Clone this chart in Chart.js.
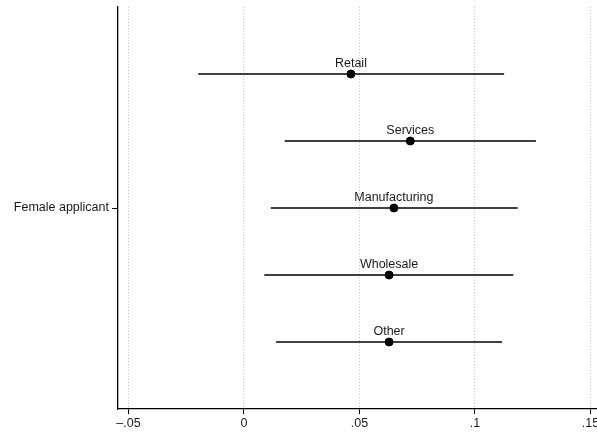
<!DOCTYPE html>
<html>
<head>
<meta charset="utf-8">
<script src="https://cdn.jsdelivr.net/npm/chart.js@4/dist/chart.umd.min.js"></script>
<style>
  html, body { margin: 0; padding: 0; background: #fff; overflow: hidden; }
  #wrap { width: 597px; height: 434px; overflow: hidden; position: relative; }
  #box { width: 640px; height: 434px; position: absolute; left: 0; top: 0; }
</style>
</head>
<body>
<div id="wrap"><div id="box"><canvas id="c"></canvas></div></div>
<script>
const categories = ["Retail", "Services", "Manufacturing", "Wholesale", "Other"];
const estimates  = [0.0463, 0.0720, 0.0649, 0.0628, 0.0628];
const ciLower    = [-0.0198, 0.0176, 0.0116, 0.0088, 0.0139];
const ciUpper    = [0.1126, 0.1264, 0.1185, 0.1166, 0.1117];
const xTicks     = [-0.05, 0, 0.05, 0.1, 0.15];
const xTickLabels = ["\u2013.05", "0", ".05", ".1", ".15"];
const yTickLabel = "Female applicant";

const FONT = "'Liberation Sans', Arial, Helvetica, sans-serif";

const datasets = [];
categories.forEach((cat, i) => {
  datasets.push({
    type: 'line',
    label: cat + ' CI',
    data: [{x: ciLower[i], y: i + 1}, {x: ciUpper[i], y: i + 1}],
    borderColor: '#000',
    borderWidth: 1.5,
    pointRadius: 0,
    fill: false,
    showLine: true
  });
});
datasets.push({
  type: 'scatter',
  label: 'Estimates',
  data: estimates.map((v, i) => ({x: v, y: i + 1})),
  backgroundColor: '#000',
  borderColor: '#000',
  pointRadius: 4,
  pointHoverRadius: 4
});

const labelPlugin = {
  id: 'catLabels',
  afterDatasetsDraw(chart) {
    const ctx = chart.ctx;
    const xs = chart.scales.x, ys = chart.scales.y;
    ctx.save();
    ctx.font = '12.5px ' + FONT;
    ctx.fillStyle = '#1a1a1a';
    ctx.textAlign = 'center';
    ctx.textBaseline = 'bottom';
    categories.forEach((cat, i) => {
      ctx.fillText(cat, xs.getPixelForValue(estimates[i]), ys.getPixelForValue(i + 1) - 4);
    });
    ctx.restore();
  }
};

new Chart(document.getElementById('c'), {
  type: 'scatter',
  data: { datasets },
  plugins: [labelPlugin],
  options: {
    responsive: true,
    maintainAspectRatio: false,
    animation: false,
    events: [],
    layout: { padding: { left: 0, top: 7, right: 20, bottom: 0 } },
    plugins: { legend: { display: false }, tooltip: { enabled: false } },
    scales: {
      x: {
        type: 'linear',
        min: -0.05454,
        max: 0.16277,
        afterBuildTicks(scale) { scale.ticks = xTicks.map(v => ({value: v})); },
        afterFit(scale) { scale.height = 25; scale.paddingLeft = 0; scale.paddingRight = 0; },
        ticks: {
          callback: (v) => { const k = xTicks.indexOf(v); return k >= 0 ? xTickLabels[k] : ''; },
          font: { family: FONT, size: 12.5 },
          color: '#1a1a1a',
          padding: 2,
          maxRotation: 0,
          autoSkip: false
        },
        grid: {
          drawOnChartArea: true,
          drawTicks: true,
          tickLength: 5,
          color: '#c8c8c8',
          lineWidth: 1,
          tickColor: '#000',
          tickWidth: 1
        },
        border: { display: true, color: '#000', width: 1.3, dash: [1, 2] }
      },
      y: {
        type: 'linear',
        min: 0,
        max: 6,
        reverse: true,
        afterBuildTicks(scale) { scale.ticks = [{value: 3}]; },
        afterFit(scale) { scale.width = 118; scale.paddingTop = 0; scale.paddingBottom = 0; },
        ticks: {
          callback: () => yTickLabel,
          font: { family: FONT, size: 12.5 },
          color: '#1a1a1a',
          padding: 3
        },
        grid: {
          drawOnChartArea: false,
          drawTicks: true,
          tickLength: 6,
          tickColor: '#000',
          tickWidth: 1
        },
        border: { display: true, color: '#000', width: 1.3 }
      }
    }
  }
});
</script>
</body>
</html>
